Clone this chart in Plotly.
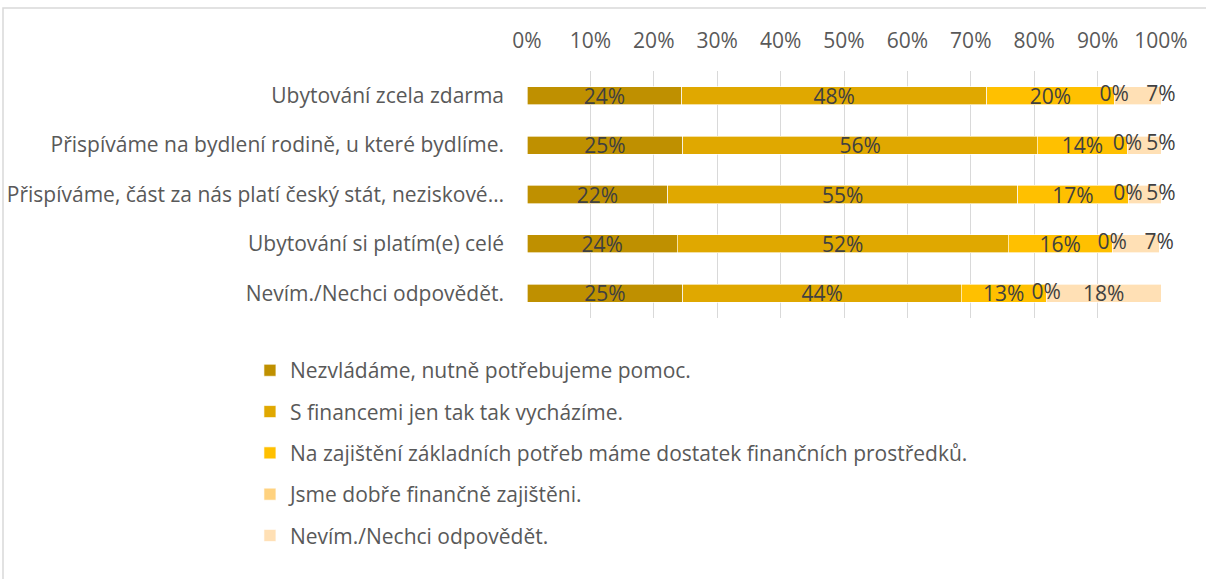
import plotly.graph_objects as go

# Kategorie (shora dolů)
categories = [
    "Ubytování zcela zdarma",
    "Přispíváme na bydlení rodině, u které bydlíme.",
    "Přispíváme, část za nás platí český stát, neziskové…",
    "Ubytování si platím(e) celé",
    "Nevím./Nechci odpovědět.",
]

series_names = [
    "Nezvládáme, nutně potřebujeme pomoc.",
    "S financemi jen tak tak vycházíme.",
    "Na zajištění základních potřeb máme dostatek finančních prostředků.",
    "Jsme dobře finančně zajištěni.",
    "Nevím./Nechci odpovědět.",
]

# Podíly v procentech pro každou kategorii
nezvladame = [24.4, 24.6, 22.2, 23.7, 24.6]
tak_tak = [48.1, 55.9, 55.2, 52.2, 43.9]
dostatek = [20.1, 14.2, 17.4, 16.4, 13.4]
dobre = [0.0, 0.0, 0.0, 0.0, 0.0]
nevim = [7.4, 5.3, 5.2, 7.4, 18.1]

series_values = [nezvladame, tak_tak, dostatek, dobre, nevim]
colors = ["#BF9000", "#E0A800", "#FFC000", "#FFD27F", "#FFE0B5"]

tick_vals = [0, 10, 20, 30, 40, 50, 60, 70, 80, 90, 100]
tick_text = ["0%", "10%", "20%", "30%", "40%", "50%", "60%", "70%", "80%", "90%", "100%"]

FONT = "Open Sans"
FS = 21
LABEL_COLOR = "#404040"
AXIS_COLOR = "#595959"


def pct(v):
    return f"{round(v):.0f}%"


n_series = len(series_values)
n_cat = len(categories)
starts = [[sum(series_values[k][j] for k in range(i)) for j in range(n_cat)]
          for i in range(n_series)]

fig = go.Figure()

for i, (name, vals, col) in enumerate(zip(series_names, series_values, colors)):
    last = i == n_series - 1
    # úzké koncové úseky dostanou popisek na konci pruhu (viz níže)
    texts = ["" if (v == 0 or (last and v < 10)) else pct(v) for v in vals]
    fig.add_trace(go.Bar(
        name=name,
        y=categories,
        x=vals,
        orientation="h",
        marker=dict(color=col, line=dict(color="rgba(255,255,255,0.8)", width=0.8)),
        text=texts,
        textposition="inside",
        insidetextanchor="middle",
        textfont=dict(family=FONT, size=FS, color=LABEL_COLOR),
        constraintext="none",
        legendgroup=f"g{i}",
        hoverinfo="skip",
    ))

# Popisky nulových segmentů na hranici mezi sousedními úseky
for i, vals in enumerate(series_values):
    if all(v == 0 for v in vals):
        fig.add_trace(go.Scatter(
            x=starts[i],
            y=categories,
            mode="text",
            text=[pct(v) for v in vals],
            textposition="middle center",
            textfont=dict(family=FONT, size=FS, color=LABEL_COLOR),
            showlegend=False,
            hoverinfo="skip",
        ))

# Popisky úzkých posledních úseků na konci pruhu
last_vals = series_values[-1]
ends = [starts[-1][j] + last_vals[j] for j in range(n_cat)]
fig.add_trace(go.Scatter(
    x=ends,
    y=categories,
    mode="text",
    text=[pct(v) if v < 10 else "" for v in last_vals],
    textposition="middle center",
    textfont=dict(family=FONT, size=FS, color=LABEL_COLOR),
    showlegend=False,
    hoverinfo="skip",
    cliponaxis=False,
))

fig.update_layout(
    barmode="stack",
    bargap=0.635,
    width=1206,
    height=579,
    margin=dict(l=527, r=45, t=71, b=261),
    paper_bgcolor="white",
    plot_bgcolor="white",
    font=dict(family=FONT, size=FS, color=AXIS_COLOR),
    uniformtext=dict(minsize=FS, mode="show"),
    xaxis=dict(
        range=[0, 100],
        side="top",
        tickvals=tick_vals,
        ticktext=tick_text,
        showgrid=True,
        gridcolor="#D9D9D9",
        gridwidth=1,
        zeroline=False,
        showline=False,
        ticks="",
        ticklabelstandoff=18,
        tickfont=dict(family=FONT, size=FS, color=AXIS_COLOR),
        automargin=False,
        fixedrange=True,
    ),
    yaxis=dict(
        autorange="reversed",
        showgrid=False,
        zeroline=False,
        showline=False,
        ticks="",
        ticklabelstandoff=22,
        tickfont=dict(family=FONT, size=FS, color=AXIS_COLOR),
        automargin=False,
        fixedrange=True,
    ),
    legend=dict(
        orientation="v",
        x=-0.437,
        xanchor="left",
        y=-0.13,
        yanchor="top",
        traceorder="grouped",
        tracegroupgap=11,
        font=dict(family=FONT, size=FS, color=AXIS_COLOR),
        bgcolor="rgba(0,0,0,0)",
    ),
    showlegend=True,
    shapes=[
        dict(
            type="rect",
            xref="paper",
            yref="paper",
            x0=(3 - 527) / 634,
            x1=1.5,
            y0=-2.0,
            y1=(318 - 8) / 247,
            line=dict(color="#D9D9D9", width=1.5),
            fillcolor="rgba(0,0,0,0)",
            layer="below",
        )
    ],
)

fig.write_html("out.html")
